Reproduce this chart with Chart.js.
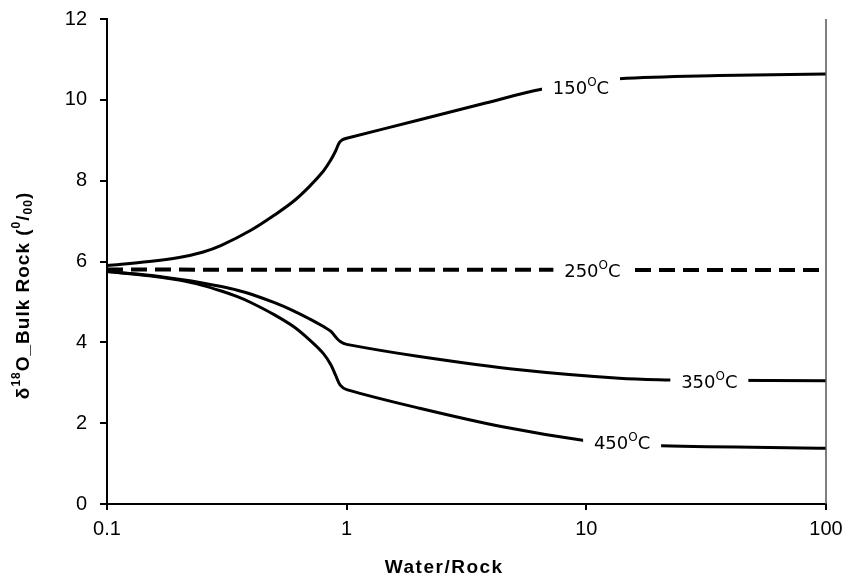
<!DOCTYPE html>
<html>
<head>
<meta charset="utf-8">
<script src="https://cdn.jsdelivr.net/npm/chart.js@4.4.1/dist/chart.umd.min.js"></script>
<style>
  html, body { margin: 0; padding: 0; background: #fff; }
  #wrap { width: 846px; height: 580px; }
</style>
</head>
<body>
<div id="wrap"><canvas id="isoChart"></canvas></div>
<script>
// water/rock ratios and bulk rock d18O
var wr150 = [0.1, 0.15, 0.2, 0.25, 0.3, 0.4, 0.5, 0.6, 0.7, 0.8, 0.86, 0.9, 0.93, 0.96, 1.0, 2.0, 3.8, 6.5, 10, 13.7, 35.8, 100];
var d150 = [5.90, 6.00, 6.10, 6.23, 6.40, 6.78, 7.15, 7.49, 7.86, 8.24, 8.52, 8.74, 8.93, 9.01, 9.05, 9.50, 9.92, 10.26, 10.40, 10.52, 10.60, 10.64];

var wr250 = [0.1, 100];
var d250 = [5.80, 5.79];

var wr350 = [0.1, 0.15, 0.2, 0.25, 0.3, 0.35, 0.4, 0.5, 0.6, 0.7, 0.8, 0.86, 0.9, 0.94, 1.0, 2.01, 5.26, 13.7, 22.4, 33, 100];
var d350 = [5.75, 5.66, 5.56, 5.47, 5.38, 5.29, 5.19, 4.98, 4.78, 4.58, 4.39, 4.27, 4.13, 4.02, 3.95, 3.65, 3.32, 3.11, 3.07, 3.06, 3.05];

var wr450 = [0.1, 0.15, 0.2, 0.25, 0.3, 0.35, 0.4, 0.5, 0.6, 0.7, 0.8, 0.86, 0.9, 0.94, 1.0, 2.01, 4.47, 9.65, 14.4, 20.5, 100];
var d450 = [5.75, 5.65, 5.54, 5.41, 5.27, 5.13, 4.98, 4.68, 4.39, 4.06, 3.72, 3.44, 3.18, 2.94, 2.83, 2.37, 1.91, 1.58, 1.50, 1.44, 1.38];

var temps = ['150', '250', '350', '450'];
var xTicks = [0.1, 1, 10, 100];
var yMin = 0, yMax = 12, yStep = 2;

// where each temperature label sits on its curve (data units)
var labelAt = [
  { x: 9.5, y: 10.30 },
  { x: 10.6, y: 5.78 },
  { x: 32.6, y: 3.04 },
  { x: 14.1, y: 1.52 }
];

function pts(xs, ys) {
  return xs.map(function (x, i) { return { x: x, y: ys[i] }; });
}

var tickFont = "'Liberation Sans Narrow', 'Liberation Sans', Arial, sans-serif";

// draws a run of text pieces, some raised or lowered
function drawRich(ctx, segs, cx, cy, size, weight, family) {
  var small = Math.round(size * 0.65);
  var total = 0;
  segs.forEach(function (s) {
    ctx.font = weight + ' ' + (s.sup || s.sub ? small : size) + 'px ' + family;
    s.w = ctx.measureText(s.t).width;
    total += s.w;
  });
  var x = cx - total / 2;
  var base = cy + size * 0.36;
  ctx.textAlign = 'left';
  ctx.textBaseline = 'alphabetic';
  segs.forEach(function (s) {
    ctx.font = weight + ' ' + (s.sup || s.sub ? small : size) + 'px ' + family;
    var y = base;
    if (s.sup) y = base - size * 0.45;
    if (s.sub) y = base + size * 0.18;
    ctx.fillText(s.t, x, y);
    x += s.w;
  });
}

var curveLabels = {
  id: 'curveLabels',
  afterDatasetsDraw: function (chart) {
    var ctx = chart.ctx, xs = chart.scales.x, ys = chart.scales.y;
    ctx.save();
    labelAt.forEach(function (p, i) {
      var px = xs.getPixelForValue(p.x), py = ys.getPixelForValue(p.y);
      ctx.fillStyle = '#fff';
      ctx.fillRect(px - 39, py - 11, 78, 22);
      ctx.fillStyle = '#000';
      drawRich(ctx, [{ t: temps[i] }, { t: 'O', sup: true }, { t: 'C' }], px, py, 18, 'normal', "'DejaVu Sans', sans-serif");
    });
    ctx.restore();
  }
};

var frame = {
  id: 'frame',
  afterDraw: function (chart) {
    var ctx = chart.ctx, a = chart.chartArea;
    ctx.save();
    ctx.strokeStyle = '#555';
    ctx.lineWidth = 1.5;
    ctx.beginPath();
    ctx.moveTo(a.right, a.top);
    ctx.lineTo(a.right, a.bottom);
    ctx.stroke();

    ctx.fillStyle = '#000';
    if ('letterSpacing' in ctx) ctx.letterSpacing = '1.5px';
    // x title, sits a bit left of centre like the original
    drawRich(ctx, [{ t: 'Water/Rock' }], a.left + (a.right - a.left) * 0.469, 566, 19, 'bold', tickFont);
    // y title, rotated
    if ('letterSpacing' in ctx) ctx.letterSpacing = '1px';
    ctx.translate(22, a.top + (a.bottom - a.top) * 0.57);
    ctx.rotate(-Math.PI / 2);
    drawRich(ctx, [
      { t: '\u03b4' }, { t: '18', sup: true }, { t: 'O_Bulk Rock (' },
      { t: '0', sup: true }, { t: '/' }, { t: '00', sub: true }, { t: ')' }
    ], 0, 0, 19, 'bold', tickFont);
    ctx.restore();
  }
};

var solid = { borderColor: '#000', borderWidth: 3, pointRadius: 0, fill: false, tension: 0.35 };

var ctx = document.getElementById('isoChart').getContext('2d');
var myChart = new Chart(ctx, {
  type: 'line',
  data: {
    datasets: [
      Object.assign({ label: temps[0], data: pts(wr150, d150) }, solid),
      { label: temps[1], data: pts(wr250, d250), borderColor: '#000', borderWidth: 4, borderDash: [16, 8], pointRadius: 0, fill: false },
      Object.assign({ label: temps[2], data: pts(wr350, d350) }, solid),
      Object.assign({ label: temps[3], data: pts(wr450, d450) }, solid)
    ]
  },
  options: {
    responsive: true,
    maintainAspectRatio: false,
    animation: false,
    layout: { padding: { top: 19, right: 20, left: 0, bottom: 0 } },
    plugins: {
      legend: { display: false },
      tooltip: { enabled: false }
    },
    scales: {
      x: {
        type: 'logarithmic',
        min: 0.1,
        max: 100,
        afterBuildTicks: function (scale) {
          scale.ticks = xTicks.map(function (v) { return { value: v }; });
        },
        afterFit: function (scale) {
          scale.height = 76;
          scale.paddingLeft = 0; scale.paddingRight = 0;
        },
        grid: { drawOnChartArea: false, drawTicks: true, tickLength: 6, color: '#000', lineWidth: 2 },
        border: { display: true, color: '#000', width: 2 },
        ticks: {
          color: '#000',
          font: { family: tickFont, size: 20 },
          padding: 7,
          maxRotation: 0,
          autoSkip: false,
          callback: function (v) { return String(v); }
        }
      },
      y: {
        min: yMin,
        max: yMax,
        afterFit: function (scale) {
          scale.width = 107;
          scale.paddingTop = 0; scale.paddingBottom = 0;
        },
        grid: { drawOnChartArea: false, drawTicks: true, tickLength: 7, color: '#000', lineWidth: 2 },
        border: { display: true, color: '#000', width: 2 },
        ticks: {
          stepSize: yStep,
          color: '#000',
          font: { family: tickFont, size: 20 },
          padding: 13
        }
      }
    }
  },
  plugins: [curveLabels, frame]
});
</script>
</body>
</html>
